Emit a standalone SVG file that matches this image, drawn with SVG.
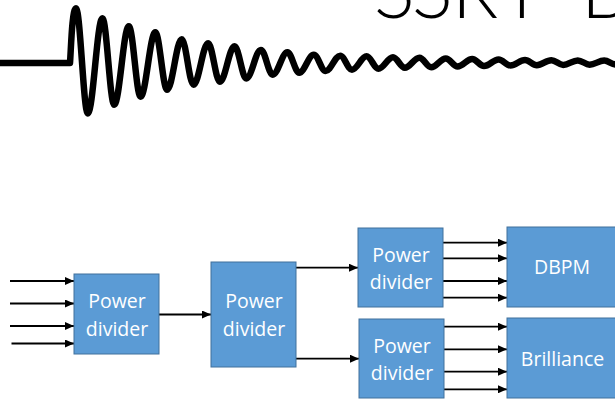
<svg xmlns="http://www.w3.org/2000/svg" width="615" height="400" viewBox="0 0 615 400">
<style>
.box{fill:#5b9bd5;stroke:#41719c;stroke-width:1}
.lbl{font-family:"Open Sans","Liberation Sans",sans-serif;font-size:19.5px;fill:#ffffff;text-anchor:middle}
.ar{stroke:#000;stroke-width:1.8;fill:none;marker-end:url(#ah)}
.title{font-family:"Lato","Open Sans",sans-serif;font-weight:300;font-size:76px;fill:#000}
</style>
<defs>
<marker id="ah" markerUnits="userSpaceOnUse" markerWidth="9" markerHeight="8" refX="9" refY="4" orient="auto">
<path d="M0,0 L9,4 L0,8 z" fill="#000"/>
</marker>
</defs>
<rect width="615" height="400" fill="#ffffff"/>
<g id="title">
<text class="title" x="374 412 452 512 560 581" y="18">SSRF B</text>
</g>
<g id="wave">
<path fill="none" stroke="#000" stroke-width="6.5" stroke-linejoin="round" d="M0,63 L70,63 C71,50 72,8.3 76,8.3 C80.3,8.3 83.5,113.4 87.8,113.4 C93.1,113.4 97.1,18.3 102.4,18.3 C106.7,18.3 109.9,104.7 114.2,104.7 C119.5,104.7 123.5,26.3 128.8,26.3 C133.1,26.3 136.3,96.7 140.6,96.7 C145.9,96.7 150,32.3 155.3,32.3 C159.6,32.3 162.8,89.7 167.1,89.7 C172.4,89.7 176.4,39.3 181.7,39.3 C186,39.3 189.2,84.7 193.5,84.7 C198.8,84.7 202.8,43.3 208.1,43.3 C212.4,43.3 215.6,81.7 219.9,81.7 C225.2,81.7 229.2,46.3 234.5,46.3 C238.8,46.3 242,78.4 246.3,78.4 C251.6,78.4 255.6,50 260.9,50 C265.2,50 268.4,74.7 272.7,74.7 C278,74.7 282.1,52.3 287.4,52.3 C291.7,52.3 294.9,72.7 299.2,72.7 C304.5,72.7 308.5,54.7 313.8,54.7 C318.1,54.7 321.3,71 325.6,71 C330.9,71 334.9,55.7 340.2,55.7 C344.5,55.7 347.7,69.7 352,69.7 C357.3,69.7 361.3,56.3 366.6,56.3 C370.9,56.3 374.1,68.7 378.4,68.7 C383.7,68.7 387.7,57.3 393,57.3 C397.3,57.3 400.5,67.7 404.8,67.7 C410.1,67.7 414.1,57.7 419.4,57.7 C423.7,57.7 426.9,67.2 431.2,67.2 C436.5,67.2 440.5,58.4 445.8,58.4 C450.1,58.4 453.3,66.5 457.6,66.5 C462.9,66.5 466.9,59 472.2,59 C476.5,59 479.7,66 484,66 C489.3,66 493.3,59.5 498.6,59.5 C502.9,59.5 506.1,65.5 510.4,65.5 C515.7,65.5 519.7,59.9 525,59.9 C529.3,59.9 532.5,65.2 536.8,65.2 C542.1,65.2 546.1,60.2 551.4,60.2 C555.7,60.2 558.9,64.9 563.2,64.9 C568.5,64.9 572.5,60.4 577.8,60.4 C582.1,60.4 585.3,64.7 589.6,64.7 C594.9,64.7 598.9,60.6 604.2,60.6 C608.5,60.6 611.7,64.5 616,64.5 C621.3,64.5 625.3,60.8 630.6,60.8"/>
</g>
<g id="connectors">
<line class="ar" x1="10" y1="281" x2="74" y2="281"/>
<line class="ar" x1="10" y1="303.5" x2="74" y2="303.5"/>
<line class="ar" x1="10" y1="326" x2="74" y2="326"/>
<line class="ar" x1="11.5" y1="343.5" x2="74" y2="343.5"/>
<line class="ar" x1="159" y1="314.5" x2="211" y2="314.5"/>
<line class="ar" x1="296" y1="267.7" x2="358" y2="267.7"/>
<line class="ar" x1="296" y1="358.7" x2="359" y2="358.7"/>
<line class="ar" x1="443" y1="242.7" x2="507" y2="242.7"/>
<line class="ar" x1="443" y1="258.3" x2="507" y2="258.3"/>
<line class="ar" x1="443" y1="281" x2="507" y2="281"/>
<line class="ar" x1="443" y1="297.7" x2="507" y2="297.7"/>
<line class="ar" x1="444" y1="326.7" x2="507" y2="326.7"/>
<line class="ar" x1="444" y1="349.3" x2="507" y2="349.3"/>
<line class="ar" x1="444" y1="371.7" x2="507" y2="371.7"/>
<line class="ar" x1="444" y1="389.3" x2="507" y2="389.3"/>
</g>
<g id="pd1">
<rect class="box" x="74" y="274" width="85" height="80"/>
<text class="lbl" x="117" y="308">Power</text>
<text class="lbl" x="117" y="335.5">divider</text>
</g>
<g id="pd2">
<rect class="box" x="211" y="262" width="85" height="105"/>
<text class="lbl" x="254" y="308">Power</text>
<text class="lbl" x="254" y="335.5">divider</text>
</g>
<g id="pd3">
<rect class="box" x="358" y="228" width="85" height="79"/>
<text class="lbl" x="401" y="261.7">Power</text>
<text class="lbl" x="401" y="288.5">divider</text>
</g>
<g id="pd4">
<rect class="box" x="359" y="319" width="85" height="79"/>
<text class="lbl" x="402" y="353.3">Power</text>
<text class="lbl" x="402" y="380">divider</text>
</g>
<g id="dbpm">
<rect class="box" x="507" y="227" width="120" height="80"/>
<text class="lbl" x="562" y="274">DBPM</text>
</g>
<g id="brilliance">
<rect class="box" x="507" y="318" width="120" height="80"/>
<text class="lbl" x="562.5" y="365.7">Brilliance</text>
</g>
</svg>
